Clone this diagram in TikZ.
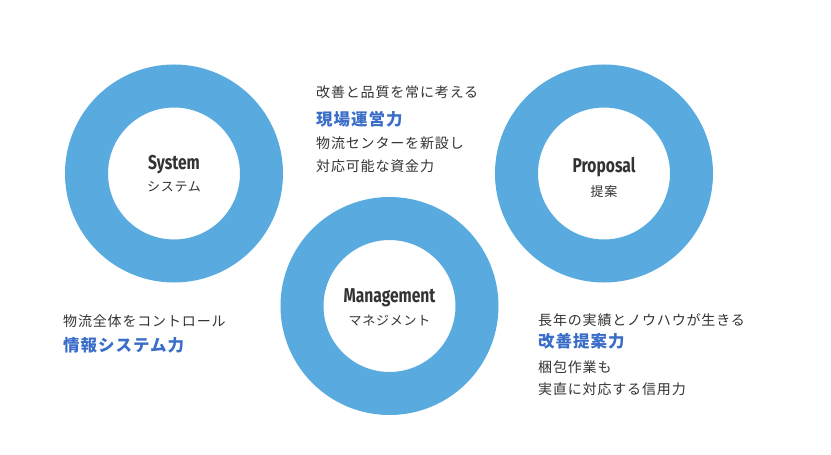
\documentclass[tikz,border=0pt]{standalone}
\usepackage{fontspec}
\newfontfamily\jp[LetterSpace=6]{Noto Sans CJK JP}
\newfontfamily\ttl[FakeStretch=0.78]{Fira Sans}
\definecolor{ringblue}{HTML}{58AADF}
\definecolor{txtblue}{HTML}{3A6DC8}
\definecolor{txtdark}{HTML}{333333}
\begin{document}
\begin{tikzpicture}[x=1pt,y=-1pt,
  ring/.style={circle, draw=ringblue, line width=43pt, minimum size=175pt, inner sep=0pt},
  ttltext/.style={anchor=base, inner sep=0pt, text=txtdark, font=\ttl\bfseries\fontsize{20}{20}\selectfont},
  subtext/.style={anchor=base, inner sep=0pt, text=txtdark, font=\jp\fontsize{13}{13}\selectfont},
  bodytext/.style={anchor=base west, inner sep=0pt, text=txtdark, font=\jp\fontsize{14}{14}\selectfont},
  headtext/.style={anchor=base west, inner sep=0pt, text=txtblue, font=\jp\bfseries\fontsize{16.5}{16.5}\selectfont}]
\useasboundingbox (0,0) rectangle (831,455);
% rings
\node[ring] (sysring) at (174,173.5) {};
\node[ring] (mgmring) at (389.5,306) {};
\node[ring] (prpring) at (604,173.5) {};
% ring labels
\node[ttltext] (systtl) at (174,169) {System};
\node[subtext] (syssub) at (174,191) {システム};
\node[ttltext] (mgmttl) at (389.5,302) {Management};
\node[subtext] (mgmsub) at (389.5,325) {マネジメント};
\node[ttltext] (prpttl) at (604,172) {Proposal};
\node[subtext] (prpsub) at (604,196) {提案};
% top block
\node[bodytext] (t1) at (316,97.5) {改善と品質を常に考える};
\node[headtext] (t2) at (316,125.5) {現場運営力};
\node[bodytext] (t3) at (316,148.5) {物流センターを新設し};
\node[bodytext] (t4) at (316,171) {対応可能な資金力};
% left block
\node[bodytext] (l1) at (63,326.5) {物流全体をコントロール};
\node[headtext] (l2) at (63,351.5) {情報システム力};
% right block
\node[bodytext] (r1) at (538,325.5) {長年の実績とノウハウが生きる};
\node[headtext] (r2) at (538,347) {改善提案力};
\node[bodytext] (r3) at (538,372) {梱包作業も};
\node[bodytext] (r4) at (538,394) {実直に対応する信用力};
\end{tikzpicture}
\end{document}
